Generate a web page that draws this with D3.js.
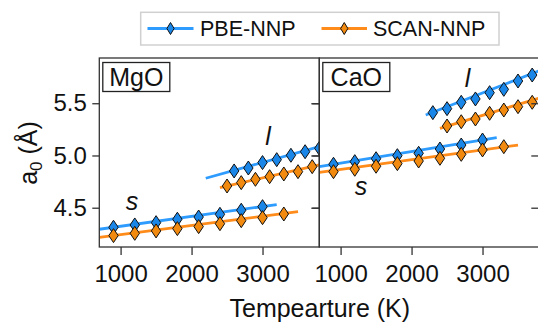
<!DOCTYPE html>
<html>
<head>
<meta charset="utf-8">
<script src="https://cdn.jsdelivr.net/npm/d3@7"></script>
<style>
  html, body { margin: 0; padding: 0; background: #fff; }
  svg { display: block; font-family: "Liberation Sans", Arial, Helvetica, sans-serif; }
</style>
</head>
<body>
<svg id="chart" width="538" height="322"></svg>
<script>
// ---------- data ----------
const panels = ["MgO", "CaO"];
const seriesNames = ["PBE-NNP", "SCAN-NNP"];
const xTicks = [1000, 2000, 3000];
const yTicks = [4.5, 5.0, 5.5];

// MgO
const mgoPbeSolidT  = [900, 1200, 1500, 1800, 2100, 2400, 2700, 3000];
const mgoPbeSolidA  = [4.313, 4.335, 4.357, 4.390, 4.411, 4.437, 4.476, 4.510];
const mgoScanSolidT = [900, 1200, 1500, 1800, 2100, 2400, 2700, 3000, 3300];
const mgoScanSolidA = [4.233, 4.255, 4.278, 4.300, 4.319, 4.347, 4.376, 4.405, 4.440];
const mgoPbeLiqT    = [2600, 2800, 3000, 3200, 3400, 3600, 3800];
const mgoPbeLiqA    = [4.852, 4.880, 4.932, 4.960, 5.002, 5.036, 5.069];
const mgoScanLiqT   = [2500, 2700, 2900, 3100, 3300, 3500, 3700];
const mgoScanLiqA   = [4.708, 4.740, 4.772, 4.797, 4.823, 4.845, 4.893];
// fitted lines: [temperature, a0]
const mgoPbeSolidFit  = [[700, 4.294], [3200, 4.530]];
const mgoScanSolidFit = [[700, 4.217], [3500, 4.462]];
const mgoPbeLiqFit    = [[2200, 4.782], [3800, 5.084]];
const mgoScanLiqFit   = [[2400, 4.692], [3800, 4.909]];

// CaO
const caoPbeSolidT  = [900, 1200, 1500, 1800, 2100, 2400, 2700, 3000];
const caoPbeSolidA  = [4.916, 4.941, 4.969, 4.998, 5.021, 5.062, 5.100, 5.148];
const caoScanSolidT = [900, 1200, 1500, 1800, 2100, 2400, 2700, 3000, 3300];
const caoScanSolidA = [4.845, 4.868, 4.897, 4.922, 4.947, 4.973, 5.011, 5.053, 5.084];
const caoPbeLiqT    = [2300, 2500, 2700, 2900, 3100, 3300, 3500, 3700];
const caoPbeLiqA    = [5.410, 5.448, 5.509, 5.541, 5.601, 5.633, 5.713, 5.770];
const caoScanLiqT   = [2500, 2700, 2900, 3100, 3300, 3500, 3700];
const caoScanLiqA   = [5.282, 5.323, 5.349, 5.404, 5.435, 5.467, 5.509];
const caoPbeSolidFit  = [[700, 4.893], [3200, 5.170]];
const caoScanSolidFit = [[700, 4.839], [3500, 5.100]];
const caoPbeLiqFit    = [[2200, 5.388], [3800, 5.810]];
const caoScanLiqFit   = [[2400, 5.260], [3800, 5.550]];

const phaseLabels = [
  { panel: 0, text: "s", T: 1160, a: 4.478 },
  { panel: 0, text: "l", T: 3077, a: 5.100 },
  { panel: 1, text: "s", T: 1288, a: 4.622 },
  { panel: 1, text: "l", T: 2788, a: 5.653 }
];

// ---------- styling ----------
const lineColor   = { "PBE-NNP": "#2e9cff", "SCAN-NNP": "#ff8c1a" };
const markerColor = { "PBE-NNP": "#1a86e8", "SCAN-NNP": "#f28a0f" };
const axisColor = "#333";
const tickFont = 24;
const titleFont = 25;

const panelData = [
  {
    name: panels[0],
    series: [
      { s: seriesNames[0], fits: [mgoPbeSolidFit, mgoPbeLiqFit],
        pts: [mgoPbeSolidT.map((t, i) => [t, mgoPbeSolidA[i]]), mgoPbeLiqT.map((t, i) => [t, mgoPbeLiqA[i]])] },
      { s: seriesNames[1], fits: [mgoScanSolidFit, mgoScanLiqFit],
        pts: [mgoScanSolidT.map((t, i) => [t, mgoScanSolidA[i]]), mgoScanLiqT.map((t, i) => [t, mgoScanLiqA[i]])] }
    ]
  },
  {
    name: panels[1],
    series: [
      { s: seriesNames[0], fits: [caoPbeSolidFit, caoPbeLiqFit],
        pts: [caoPbeSolidT.map((t, i) => [t, caoPbeSolidA[i]]), caoPbeLiqT.map((t, i) => [t, caoPbeLiqA[i]])] },
      { s: seriesNames[1], fits: [caoScanSolidFit, caoScanLiqFit],
        pts: [caoScanSolidT.map((t, i) => [t, caoScanSolidA[i]]), caoScanLiqT.map((t, i) => [t, caoScanLiqA[i]])] }
    ]
  }
];

// ---------- layout ----------
const svg = d3.select("#chart");
const plotLeft = 99.3, plotTop = 58, plotBottom = 247, panelW = 220;

const x = d3.scaleLinear().domain([700, 3800]).range([0, panelW]);
const y = d3.scaleLinear().domain([4.124, 5.933]).range([plotBottom, plotTop]);

const diamond = (hw, hh) => `M0,${-hh}L${hw},0L0,${hh}L${-hw},0Z`;

const defs = svg.append("defs");

panelData.forEach((pd, pi) => {
  const ox = plotLeft + pi * panelW;
  const g = svg.append("g").attr("transform", `translate(${ox},0)`);

  defs.append("clipPath").attr("id", "clip" + pi)
    .append("rect").attr("x", 0).attr("y", plotTop).attr("width", panelW).attr("height", plotBottom - plotTop);

  const plot = g.append("g").attr("clip-path", `url(#clip${pi})`);
  const line = d3.line().x(d => x(d[0])).y(d => y(d[1]));

  pd.series.forEach(sr => {
    sr.fits.forEach(f => {
      plot.append("path").attr("d", line(f))
        .attr("fill", "none").attr("stroke", lineColor[sr.s]).attr("stroke-width", 2.8);
    });
  });
  pd.series.forEach(sr => {
    sr.pts.forEach(arr => {
      plot.selectAll(null).data(arr).enter().append("path")
        .attr("d", diamond(4.7, 7))
        .attr("transform", d => `translate(${x(d[0])},${y(d[1])})`)
        .attr("fill", markerColor[sr.s]).attr("stroke", "#111").attr("stroke-width", 1);
    });
  });

  // phase labels
  phaseLabels.filter(l => l.panel === pi).forEach(l => {
    g.append("text").attr("x", x(l.T)).attr("y", y(l.a))
      .attr("text-anchor", "middle").attr("font-style", "italic")
      .attr("font-size", titleFont).attr("fill", "#111").text(l.text);
  });

  // frame
  g.append("rect").attr("x", 0).attr("y", plotTop).attr("width", panelW).attr("height", plotBottom - plotTop)
    .attr("fill", "none").attr("stroke", axisColor).attr("stroke-width", 1.3);

  // bottom axis
  const xa = g.append("g").attr("transform", `translate(0,${plotBottom})`)
    .call(d3.axisBottom(x).tickValues(xTicks).tickSize(8).tickPadding(10).tickFormat(d3.format("d")));
  xa.select(".domain").remove();
  xa.selectAll("line").attr("stroke", axisColor).attr("stroke-width", 1.3);
  xa.selectAll("text").attr("font-size", tickFont).attr("fill", "#111").attr("font-family", null);

  // left axis ticks (outward)
  const ya = g.append("g").call(d3.axisLeft(y).tickValues(yTicks).tickSize(7).tickPadding(5.5)
    .tickFormat(pi === 0 ? d3.format(".1f") : () => ""));
  ya.select(".domain").remove();
  ya.selectAll("line").attr("stroke", axisColor).attr("stroke-width", 1.3);
  ya.selectAll("text").attr("font-size", tickFont).attr("fill", "#111").attr("font-family", null);

  // right-side mirror ticks (inward)
  const yr = g.append("g").attr("transform", `translate(${panelW},0)`)
    .call(d3.axisLeft(y).tickValues(yTicks).tickSize(8).tickFormat(() => ""));
  yr.select(".domain").remove();
  yr.selectAll("line").attr("stroke", axisColor).attr("stroke-width", 1.3);

  // panel label box
  const lb = g.append("g").attr("transform", `translate(3.5,${plotTop + 4.5})`);
  lb.append("rect").attr("width", 67).attr("height", 29)
    .attr("fill", "#fff").attr("stroke", "#222").attr("stroke-width", 1.3);
  lb.append("text").attr("x", 33.5).attr("y", 23.5).attr("text-anchor", "middle")
    .attr("font-size", titleFont).attr("fill", "#111").text(pd.name);
});

// axis titles
svg.append("text").attr("x", plotLeft + panelW + 0.5).attr("y", 316.5).attr("text-anchor", "middle")
  .attr("font-size", titleFont).attr("fill", "#111").text("Tempearture (K)");

const yt = svg.append("text").attr("transform", `translate(36.5,153) rotate(-90)`)
  .attr("text-anchor", "middle").attr("font-size", titleFont).attr("fill", "#111");
yt.append("tspan").text("a");
yt.append("tspan").attr("font-size", 17).attr("dy", 5).text("0");
yt.append("tspan").attr("dy", -5).text(" (Å)");

// legend
const leg = svg.append("g");
leg.append("rect").attr("x", 140.7).attr("y", 12.3).attr("width", 358.3).attr("height", 32.7)
  .attr("fill", "#fff").attr("stroke", "#d0d0d0").attr("stroke-width", 1.5);
const legItems = [
  { s: seriesNames[0], x0: 147.5, x1: 193.5, tx: 200 },
  { s: seriesNames[1], x0: 321.5, x1: 367, tx: 373 }
];
legItems.forEach(it => {
  leg.append("line").attr("x1", it.x0).attr("x2", it.x1).attr("y1", 28.5).attr("y2", 28.5)
    .attr("stroke", lineColor[it.s]).attr("stroke-width", 2.8);
  leg.append("path").attr("d", diamond(3.6, 6))
    .attr("transform", `translate(${(it.x0 + it.x1) / 2},28.5)`)
    .attr("fill", markerColor[it.s]).attr("stroke", "#111").attr("stroke-width", 1);
  leg.append("text").attr("x", it.tx).attr("y", 36).attr("font-size", 21.5).attr("fill", "#111").text(it.s);
});
</script>
</body>
</html>
